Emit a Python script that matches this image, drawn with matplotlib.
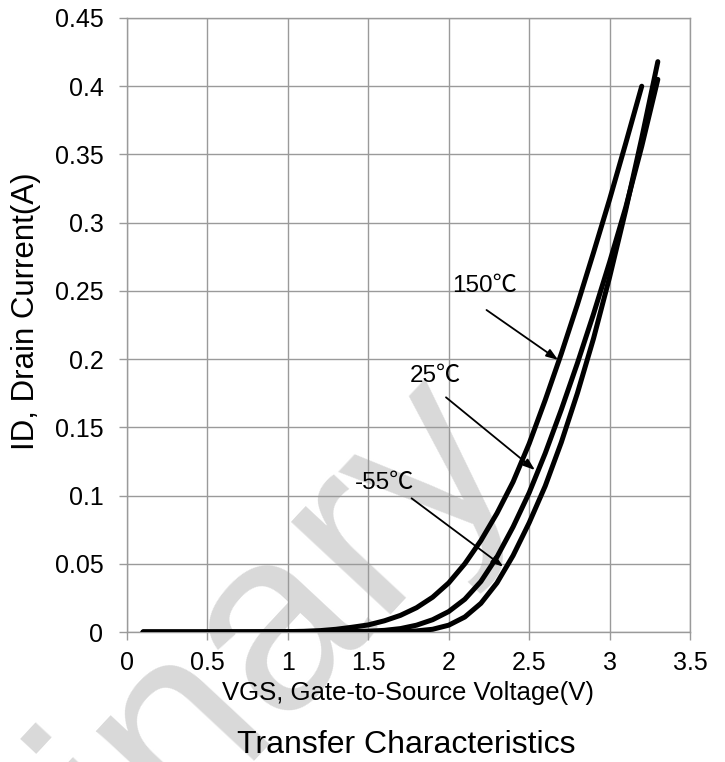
import matplotlib
matplotlib.use("Agg")
import matplotlib.pyplot as plt

# ---- data ----
vgs_150 = [0.1, 0.3, 0.5, 0.7, 0.9, 1.0, 1.1, 1.2, 1.3, 1.4, 1.5, 1.6, 1.7, 1.8, 1.9,
           2.0, 2.1, 2.2, 2.3, 2.4, 2.5, 2.6, 2.7, 2.8, 2.9, 3.0, 3.1, 3.2]
id_150 = [0, 0, 0, 0.0001, 0.0002, 0.0003, 0.0005, 0.001, 0.002, 0.0035, 0.0052, 0.0082,
          0.0122, 0.0178, 0.0255, 0.036, 0.050, 0.067, 0.087, 0.110, 0.138, 0.170, 0.204,
          0.240, 0.278, 0.317, 0.358, 0.400]

vgs_25 = [0.1, 0.3, 0.5, 0.7, 0.9, 1.0, 1.1, 1.2, 1.3, 1.4, 1.5, 1.6, 1.7, 1.8, 1.9,
          2.0, 2.1, 2.2, 2.3, 2.4, 2.5, 2.6, 2.7, 2.8, 2.9, 3.0, 3.1, 3.2, 3.3]
id_25 = [0, 0, 0, 0, 0, 0, 0.00002, 0.00005, 0.0001, 0.0003, 0.0006, 0.0012, 0.0025,
         0.005, 0.009, 0.015, 0.024, 0.037, 0.055, 0.077, 0.102, 0.131, 0.163, 0.197,
         0.233, 0.271, 0.311, 0.356, 0.405]

vgs_m55 = [0.1, 0.3, 0.5, 0.7, 0.9, 1.0, 1.1, 1.2, 1.3, 1.4, 1.5, 1.6, 1.7, 1.8, 1.9,
           2.0, 2.1, 2.2, 2.3, 2.4, 2.5, 2.6, 2.7, 2.8, 2.9, 3.0, 3.1, 3.2, 3.3]
id_m55 = [0, 0, 0, 0, 0, 0, 0, 0, 0, 0, 0, 0.0001, 0.0003, 0.0008, 0.002, 0.005, 0.011,
          0.021, 0.036, 0.056, 0.080, 0.107, 0.139, 0.175, 0.215, 0.260, 0.309, 0.362, 0.418]

x_ticks = [0, 0.5, 1, 1.5, 2, 2.5, 3, 3.5]
x_tick_labels = ["0", "0.5", "1", "1.5", "2", "2.5", "3", "3.5"]
y_ticks = [0, 0.05, 0.1, 0.15, 0.2, 0.25, 0.3, 0.35, 0.4, 0.45]
y_tick_labels = ["0", "0.05", "0.1", "0.15", "0.2", "0.25", "0.3", "0.35", "0.4", "0.45"]

labels = ["150\u2103", "25\u2103", "-55\u2103"]

plt.rcParams['font.family'] = ['Liberation Sans', 'Noto Sans CJK SC', 'DejaVu Sans']

W, H = 725, 762
fig = plt.figure(figsize=(W / 100, H / 100), dpi=100)
ax = fig.add_axes([127 / W, 1 - 632 / H, (690 - 127) / W, (632 - 18) / H])
ax.set_facecolor('none')

grid_c = '#9a9a9a'

# watermark (partly outside the canvas, as in the reference)
fig.text(31.75 / W, 1 - 879 / H, "Preliminary", fontsize=185, color='#d9d9d9',
         rotation=47, ha='center', va='center', rotation_mode='anchor', zorder=-5)

for xs, ys in [(vgs_150, id_150), (vgs_25, id_25), (vgs_m55, id_m55)]:
    ax.plot(xs, ys, color='black', lw=3.6, solid_capstyle='round',
            solid_joinstyle='round', zorder=3)

ax.set_xlim(0, 3.5)
ax.set_ylim(0, 0.45)
ax.set_xticks(x_ticks)
ax.set_xticklabels(x_tick_labels)
ax.set_yticks(y_ticks)
ax.set_yticklabels(y_tick_labels)
ax.grid(True, color=grid_c, lw=1.0, zorder=1)
for s in ax.spines.values():
    s.set_color(grid_c)
    s.set_linewidth(1.0)
ax.tick_params(axis='both', colors=grid_c, length=6, width=1.0, labelcolor='black',
               labelsize=18, direction='out')
ax.tick_params(axis='x', pad=8)
ax.tick_params(axis='y', pad=11)

ax.set_xlabel("VGS, Gate-to-Source Voltage(V)", fontsize=18.5)
ax.xaxis.label.set_va('baseline')
ax.xaxis.set_label_coords(0.5, (632 - 700) / 614)

ax.set_ylabel("ID, Drain Current(A)", fontsize=22.5)
ax.yaxis.set_label_coords((41 - 127) / 563, (632 - 311) / 614)

fig.text(406 / W, 1 - 753 / H, "Transfer Characteristics", fontsize=23,
         ha='center', va='baseline')

# annotations
ann_text_pos = [(2.225, 0.2536), (1.914, 0.188), (1.60, 0.109)]
ann_arrow_start = [(2.235, 0.236), (1.983, 0.172), (1.769, 0.098)]
ann_arrow_end = [(2.68, 0.1994), (2.536, 0.1187), (2.339, 0.0479)]
for lab, tp, st, en in zip(labels, ann_text_pos, ann_arrow_start, ann_arrow_end):
    ax.text(tp[0], tp[1], lab, fontsize=17.5, ha='center', va='center', zorder=4)
    ax.annotate('', xy=en, xytext=st,
                arrowprops=dict(arrowstyle='-|>,head_length=0.7,head_width=0.25',
                                color='black', lw=1.3, shrinkA=0, shrinkB=0),
                zorder=4)

fig.savefig('out.png', dpi=100)
